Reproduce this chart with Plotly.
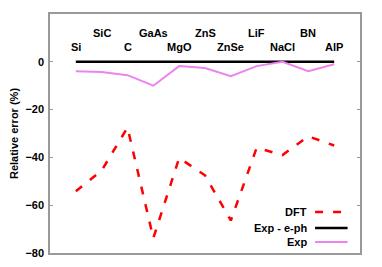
import plotly.graph_objects as go

materials = ["Si", "SiC", "C", "GaAs", "MgO", "ZnS", "ZnSe", "LiF", "NaCl", "BN", "AlP"]
dft = [-54.2, -45.5, -27.5, -73.8, -40.2, -47.5, -66.4, -36.0, -39.0, -31.2, -35.0]
exp_eph = [0, 0, 0, 0, 0, 0, 0, 0, 0, 0, 0]
exp = [-4.0, -4.3, -5.6, -10.0, -1.8, -2.6, -6.0, -1.8, 0.0, -3.9, -1.0]
y_ticks = [-80, -60, -40, -20, 0, 20]

xs = list(range(1, len(materials) + 1))
FONT = "Liberation Sans, Arial, sans-serif"

fig = go.Figure()
fig.add_trace(go.Scatter(x=xs, y=dft, mode="lines", name="DFT",
                         line=dict(color="#ff0000", width=2.5, dash="8px,10px")))
fig.add_trace(go.Scatter(x=xs, y=exp_eph, mode="lines", name="Exp - e-ph",
                         line=dict(color="#000000", width=2.5)))
fig.add_trace(go.Scatter(x=xs, y=exp, mode="lines", name="Exp",
                         line=dict(color="#ee82ee", width=2)))

annotations = []
for i, m in enumerate(materials):
    annotations.append(dict(x=xs[i], y=(6.2 if i % 2 == 0 else 12.0), text=m,
                            showarrow=False, xref="x", yref="y",
                            font=dict(family=FONT, size=11, color="black", weight="bold")))

# manual legend (text left of sample)
legend_items = [("DFT", dict(color="#ff0000", width=2.5, dash="8px,10px"), 0.172),
                ("Exp - e-ph", dict(color="#000000", width=2.5), 0.105),
                ("Exp", dict(color="#ee82ee", width=2), 0.046)]
shapes = []
for name, ln, yp in legend_items:
    annotations.append(dict(x=0.836, y=yp, xref="paper", yref="paper", text=name,
                            showarrow=False, xanchor="right", yanchor="middle",
                            font=dict(family=FONT, size=11, color="black", weight="bold")))
    shapes.append(dict(type="line", xref="paper", yref="paper", x0=0.855, x1=0.96,
                       y0=yp, y1=yp, line=ln))

fig.update_layout(
    width=366, height=251,
    margin=dict(l=42, r=14, t=6, b=6),
    plot_bgcolor="white", paper_bgcolor="white",
    showlegend=False,
    annotations=annotations, shapes=shapes,
    xaxis=dict(range=[0, 12], showticklabels=False, ticks="", showgrid=False,
               zeroline=False, showline=True, linecolor="#999999", linewidth=1.5,
               mirror=True, automargin=False),
    yaxis=dict(range=[-80, 20], tickvals=y_ticks, ticks="inside", ticklen=3,
               tickcolor="#999999", showgrid=False, zeroline=False, showline=True,
               linecolor="#999999", linewidth=1.5, mirror="ticks", automargin=False,
               ticklabelstandoff=2,
               tickfont=dict(family=FONT, size=11, color="black", weight="bold"),
               title=dict(text="Relative error (%)", standoff=15,
                          font=dict(family=FONT, size=11, color="black", weight="bold"))),
)

fig.write_html("out.html")
